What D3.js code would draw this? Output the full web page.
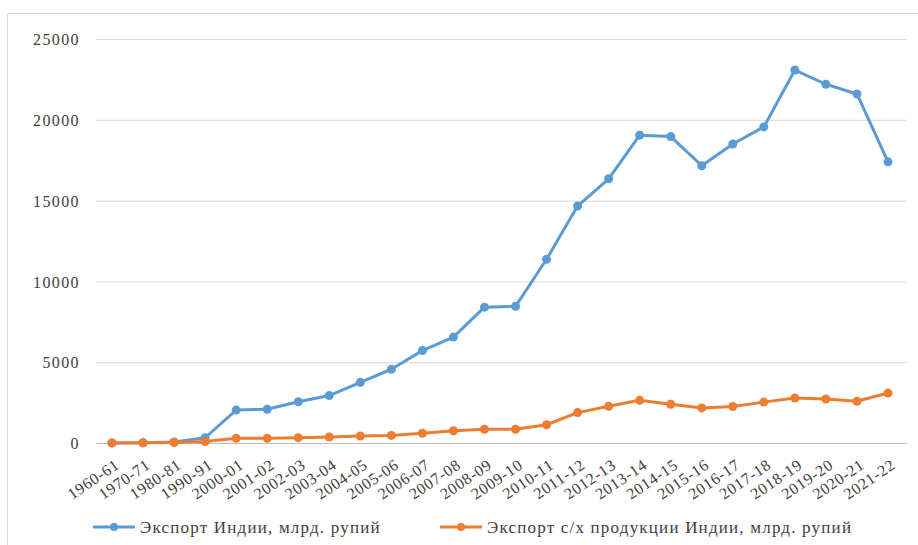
<!DOCTYPE html>
<html>
<head>
<meta charset="utf-8">
<script src="https://cdn.jsdelivr.net/npm/d3@7"></script>
<style>
  body { margin: 0; background: #fff; }
  svg { display: block; }
  svg text { font-family: "Liberation Serif", "Times New Roman", Tinos, "DejaVu Serif", serif !important; fill: #404040; }
</style>
</head>
<body>
<svg id="chart" width="918" height="545"></svg>
<script>
// Fiscal years
const categories = ["1960-61","1970-71","1980-81","1990-91","2000-01","2001-02","2002-03","2003-04",
  "2004-05","2005-06","2006-07","2007-08","2008-09","2009-10","2010-11","2011-12","2012-13",
  "2013-14","2014-15","2015-16","2016-17","2017-18","2018-19","2019-20","2020-21","2021-22"];

// India's total exports, bn rupees
const totalExports = [6, 15, 67, 325, 2036, 2090, 2550, 2934, 3753, 4564, 5718, 6555, 8405, 8455,
  11370, 14660, 16350, 19050, 18960, 17160, 18500, 19560, 23080, 22200, 21600, 17400];

// India's agricultural exports, bn rupees
const agriExports = [5, 8, 30, 90, 290, 290, 330, 370, 430, 470, 600, 760, 850, 850,
  1130, 1880, 2270, 2640, 2400, 2170, 2260, 2530, 2780, 2720, 2580, 3090];

const yTicks = [0, 5000, 10000, 15000, 20000, 25000];

const seriesNames = ["Экспорт Индии, млрд. рупий", "Экспорт с/х продукции Индии, млрд. рупий"];
const seriesColors = ["#5b9bd5", "#ed7d31"];

const svg = d3.select("#chart");

// outer frame
svg.append("rect")
  .attr("x", 7.5).attr("y", 13.5)
  .attr("width", 930).attr("height", 560)
  .attr("fill", "none").attr("stroke", "#d9d9d9");

const plot = { left: 96, right: 907, top: 39, bottom: 443 };

const x = d3.scalePoint()
  .domain(categories)
  .range([112, 888]);

const y = d3.scaleLinear()
  .domain([0, 25000])
  .range([plot.bottom, plot.top]);

// gridlines
svg.append("g")
  .selectAll("line")
  .data(yTicks.filter(d => d > 0))
  .join("line")
  .attr("x1", plot.left).attr("x2", plot.right)
  .attr("y1", d => y(d) + 0.5).attr("y2", d => y(d) + 0.5)
  .attr("stroke", "#d9d9d9").attr("stroke-width", 1);

// y axis labels
const yAxis = svg.append("g")
  .attr("transform", `translate(${plot.left - 16},0)`)
  .call(d3.axisLeft(y).tickValues(yTicks).tickSize(0).tickPadding(0).tickFormat(d3.format("d")));
yAxis.attr("font-family", null);
yAxis.select(".domain").remove();
yAxis.selectAll("text")
  .attr("font-size", 16)
  .attr("letter-spacing", 1.4)
  .attr("dy", "0.35em")
  .attr("fill", "#404040");

// x axis
const xAxis = svg.append("g")
  .attr("transform", `translate(0,${plot.bottom + 0.5})`)
  .call(d3.axisBottom(x).tickSize(0).tickPadding(0));
xAxis.attr("font-family", null);
xAxis.select(".domain")
  .attr("d", `M${plot.left},0H${plot.right}`)
  .attr("stroke", "#bfbfbf").attr("stroke-width", 1);
xAxis.selectAll("text")
  .attr("font-size", 16)
  .attr("letter-spacing", 0.7)
  .attr("text-anchor", "end")
  .attr("y", 0).attr("dy", 0)
  .attr("transform", "translate(8,24) rotate(-34)")
  .attr("fill", "#262626");

// lines and markers
const seriesData = [totalExports, agriExports];
const line = d3.line()
  .x((d, i) => x(categories[i]))
  .y(d => y(d));

seriesData.forEach((vals, s) => {
  const g = svg.append("g");
  g.append("path")
    .datum(vals)
    .attr("d", line)
    .attr("fill", "none")
    .attr("stroke", seriesColors[s])
    .attr("stroke-width", 3)
    .attr("stroke-linejoin", "round");
  g.selectAll("circle")
    .data(vals)
    .join("circle")
    .attr("cx", (d, i) => x(categories[i]))
    .attr("cy", d => y(d))
    .attr("r", 4.5)
    .attr("fill", seriesColors[s]);
});

// legend
const legendItems = [
  { x: 93, name: seriesNames[0], color: seriesColors[0] },
  { x: 440, name: seriesNames[1], color: seriesColors[1] }
];
const lg = svg.append("g").attr("transform", "translate(0,527)");
legendItems.forEach(it => {
  lg.append("line")
    .attr("x1", it.x).attr("x2", it.x + 42)
    .attr("y1", 0).attr("y2", 0)
    .attr("stroke", it.color).attr("stroke-width", 3);
  lg.append("circle")
    .attr("cx", it.x + 21).attr("cy", 0).attr("r", 4)
    .attr("fill", it.color);
  lg.append("text")
    .attr("x", it.x + 47).attr("y", 0).attr("dy", "0.35em")
    .attr("font-size", 17)
    .attr("letter-spacing", 1.2)
    .attr("fill", "#262626")
    .text(it.name);
});
</script>
</body>
</html>
